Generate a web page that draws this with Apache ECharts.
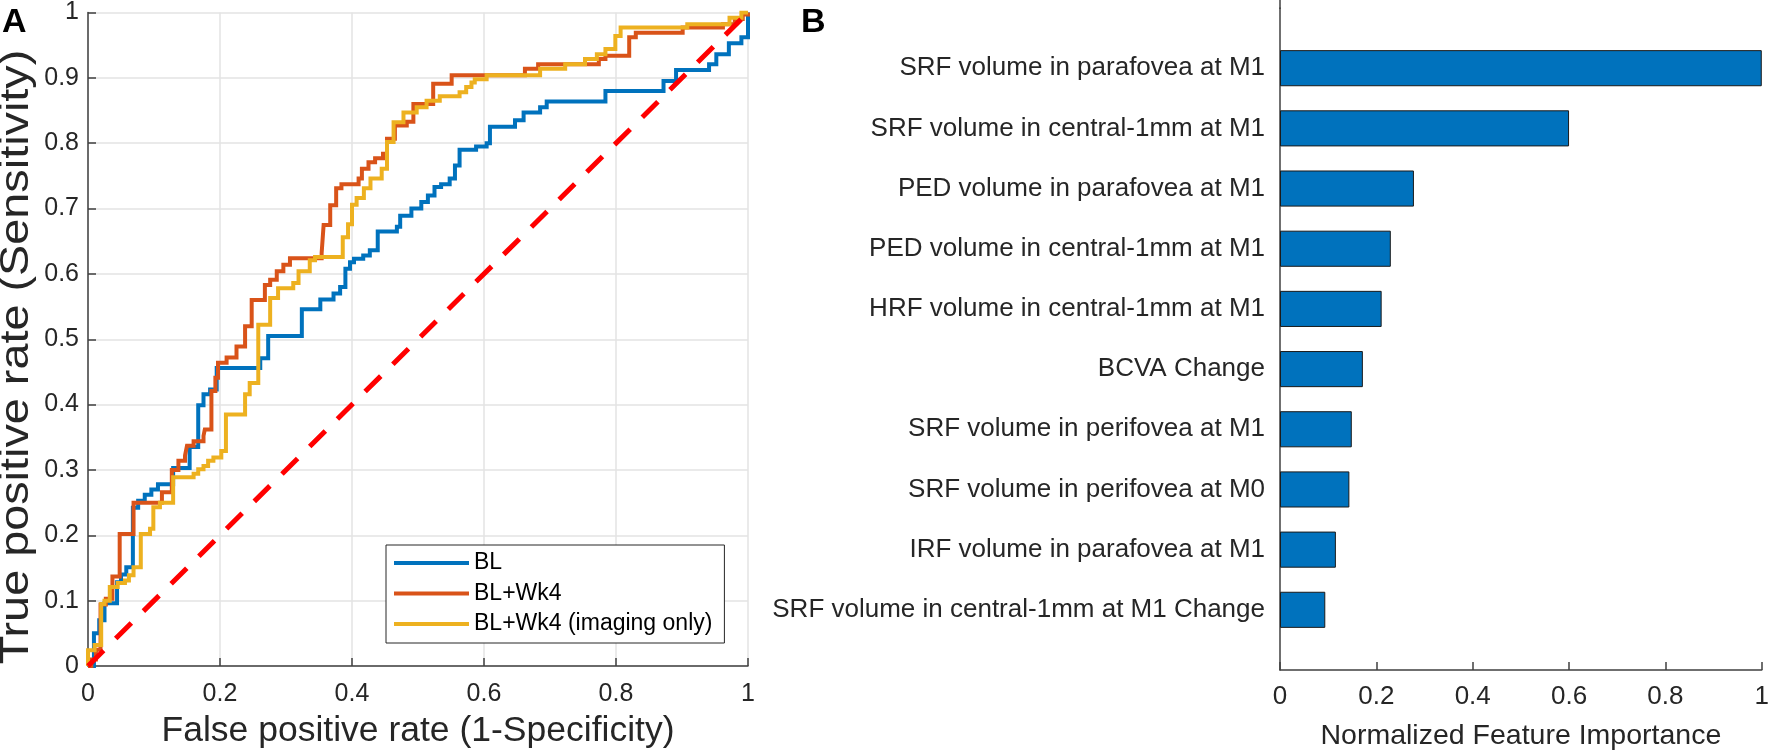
<!DOCTYPE html>
<html>
<head>
<meta charset="utf-8">
<script src="https://cdn.jsdelivr.net/npm/echarts@6/dist/echarts.min.js"></script>
<style>
html,body{margin:0;padding:0;background:#fff;}
#c{width:1772px;height:756px;}
</style>
</head>
<body>
<div id="c"></div>
<script>
// ---------- Panel A: ROC curves (corner points of the step curves, [FPR, TPR]) ----------
const rocBL = [[0,0],[0.009,0],[0.009,0.05],[0.017,0.05],[0.017,0.07],[0.025,0.07],[0.025,0.096],[0.044,0.096],[0.044,0.128],[0.05,0.128],[0.05,0.14],[0.058,0.14],[0.058,0.151],[0.068,0.151],[0.068,0.242],[0.076,0.242],[0.076,0.253],[0.086,0.253],[0.086,0.262],[0.096,0.262],[0.096,0.27],[0.106,0.27],[0.106,0.278],[0.129,0.278],[0.129,0.303],[0.154,0.303],[0.154,0.335],[0.167,0.335],[0.167,0.399],[0.175,0.399],[0.175,0.416],[0.185,0.416],[0.185,0.423],[0.195,0.423],[0.195,0.456],[0.261,0.456],[0.261,0.471],[0.273,0.471],[0.273,0.505],[0.324,0.505],[0.324,0.546],[0.352,0.546],[0.352,0.561],[0.372,0.561],[0.372,0.57],[0.382,0.57],[0.382,0.58],[0.39,0.58],[0.39,0.608],[0.397,0.608],[0.397,0.618],[0.403,0.618],[0.403,0.623],[0.417,0.623],[0.417,0.628],[0.427,0.628],[0.427,0.636],[0.439,0.636],[0.439,0.665],[0.468,0.665],[0.468,0.672],[0.473,0.672],[0.473,0.689],[0.49,0.689],[0.49,0.7],[0.505,0.7],[0.505,0.71],[0.515,0.71],[0.515,0.72],[0.525,0.72],[0.525,0.733],[0.535,0.733],[0.535,0.737],[0.548,0.737],[0.548,0.746],[0.556,0.746],[0.556,0.766],[0.563,0.766],[0.563,0.79],[0.588,0.79],[0.588,0.795],[0.604,0.795],[0.604,0.8],[0.609,0.8],[0.609,0.825],[0.647,0.825],[0.647,0.835],[0.66,0.835],[0.66,0.847],[0.685,0.847],[0.685,0.855],[0.695,0.855],[0.695,0.864],[0.784,0.864],[0.784,0.88],[0.872,0.88],[0.872,0.895],[0.891,0.895],[0.891,0.912],[0.941,0.912],[0.941,0.921],[0.952,0.921],[0.952,0.936],[0.971,0.936],[0.971,0.953],[0.99,0.953],[0.99,0.962],[1,0.962],[1,1]];

const rocWk4 = [[0,0],[0.005,0],[0.005,0.01],[0.012,0.01],[0.012,0.025],[0.019,0.025],[0.019,0.094],[0.027,0.094],[0.027,0.103],[0.037,0.103],[0.037,0.137],[0.048,0.137],[0.048,0.202],[0.069,0.202],[0.069,0.25],[0.112,0.25],[0.112,0.266],[0.127,0.266],[0.127,0.3],[0.137,0.3],[0.137,0.314],[0.147,0.314],[0.147,0.322],[0.15,0.322],[0.15,0.337],[0.16,0.337],[0.16,0.344],[0.175,0.344],[0.175,0.352],[0.177,0.352],[0.177,0.362],[0.187,0.362],[0.187,0.421],[0.193,0.421],[0.193,0.441],[0.197,0.441],[0.197,0.464],[0.21,0.464],[0.21,0.472],[0.225,0.472],[0.225,0.489],[0.238,0.489],[0.238,0.52],[0.248,0.52],[0.248,0.56],[0.268,0.56],[0.268,0.583],[0.276,0.583],[0.276,0.591],[0.286,0.591],[0.286,0.604],[0.296,0.604],[0.296,0.614],[0.306,0.614],[0.306,0.624],[0.354,0.624],[0.354,0.632],[0.357,0.632],[0.357,0.675],[0.367,0.675],[0.367,0.705],[0.376,0.705],[0.376,0.731],[0.384,0.731],[0.384,0.737],[0.41,0.737],[0.41,0.746],[0.415,0.746],[0.415,0.761],[0.425,0.761],[0.425,0.771],[0.435,0.771],[0.435,0.777],[0.447,0.777],[0.447,0.784],[0.453,0.784],[0.453,0.807],[0.465,0.807],[0.465,0.827],[0.483,0.827],[0.483,0.833],[0.493,0.833],[0.493,0.86],[0.523,0.86],[0.523,0.891],[0.551,0.891],[0.551,0.904],[0.662,0.904],[0.662,0.914],[0.682,0.914],[0.682,0.921],[0.774,0.921],[0.774,0.929],[0.784,0.929],[0.784,0.934],[0.82,0.934],[0.82,0.962],[0.83,0.962],[0.83,0.969],[0.901,0.969],[0.901,0.977],[0.962,0.977],[0.962,0.982],[0.98,0.982],[0.98,0.99],[0.992,0.99],[0.992,0.997],[1,0.997],[1,1]];

const rocWk4Img = [[0,0],[0,0.024],[0.01,0.024],[0.01,0.032],[0.02,0.032],[0.02,0.095],[0.025,0.095],[0.025,0.1],[0.033,0.1],[0.033,0.121],[0.045,0.121],[0.045,0.127],[0.056,0.127],[0.056,0.131],[0.062,0.131],[0.062,0.139],[0.069,0.139],[0.069,0.151],[0.08,0.151],[0.08,0.202],[0.094,0.202],[0.094,0.21],[0.099,0.21],[0.099,0.243],[0.109,0.243],[0.109,0.25],[0.129,0.25],[0.129,0.289],[0.16,0.289],[0.16,0.294],[0.167,0.294],[0.167,0.301],[0.175,0.301],[0.175,0.306],[0.182,0.306],[0.182,0.314],[0.19,0.314],[0.19,0.319],[0.202,0.319],[0.202,0.329],[0.209,0.329],[0.209,0.385],[0.238,0.385],[0.238,0.416],[0.245,0.416],[0.245,0.433],[0.258,0.433],[0.258,0.522],[0.276,0.522],[0.276,0.563],[0.288,0.563],[0.288,0.578],[0.311,0.578],[0.311,0.586],[0.319,0.586],[0.319,0.604],[0.336,0.604],[0.336,0.621],[0.344,0.621],[0.344,0.626],[0.386,0.626],[0.386,0.656],[0.394,0.656],[0.394,0.676],[0.4,0.676],[0.4,0.706],[0.407,0.706],[0.407,0.716],[0.418,0.716],[0.418,0.731],[0.428,0.731],[0.428,0.746],[0.445,0.746],[0.445,0.761],[0.453,0.761],[0.453,0.802],[0.463,0.802],[0.463,0.832],[0.478,0.832],[0.478,0.847],[0.498,0.847],[0.498,0.855],[0.513,0.855],[0.513,0.865],[0.533,0.865],[0.533,0.872],[0.563,0.872],[0.563,0.878],[0.573,0.878],[0.573,0.886],[0.581,0.886],[0.581,0.893],[0.586,0.893],[0.586,0.898],[0.604,0.898],[0.604,0.904],[0.685,0.904],[0.685,0.914],[0.723,0.914],[0.723,0.921],[0.753,0.921],[0.753,0.929],[0.771,0.929],[0.771,0.936],[0.784,0.936],[0.784,0.944],[0.799,0.944],[0.799,0.964],[0.807,0.964],[0.807,0.977],[0.908,0.977],[0.908,0.982],[0.972,0.982],[0.972,0.992],[0.99,0.992],[0.99,1],[1,1]];

const chanceLine = [[0,0],[1,1]];
const seriesNames = ['BL','BL+Wk4','BL+Wk4 (imaging only)'];

// ---------- Panel B: feature importance ----------
const featureNames = [
  'SRF volume in parafovea at M1',
  'SRF volume in central-1mm at M1',
  'PED volume in parafovea at M1',
  'PED volume in central-1mm at M1',
  'HRF volume in central-1mm at M1',
  'BCVA Change',
  'SRF volume in perifovea at M1',
  'SRF volume in perifovea at M0',
  'IRF volume in parafovea at M1',
  'SRF volume in central-1mm at M1 Change'
];
const featureImportance = [1.0, 0.6, 0.278, 0.23, 0.211, 0.172, 0.149, 0.144, 0.116, 0.094];

const FONT = '"Liberation Sans", Arial, Helvetica, sans-serif';
const TXT = '#262626';
const AX = '#404040';

const yCats = [''].concat(featureNames, ['']);
const barData = ['-'].concat(featureImportance, ['-']);

const chart = echarts.init(document.getElementById('c'), null, {renderer: 'canvas'});
chart.setOption({
  backgroundColor: '#ffffff',
  animation: false,
  textStyle: {fontFamily: FONT, color: TXT},
  graphic: [
    {type: 'text', left: 2, top: 6, style: {text: 'A', font: 'bold 34px ' + FONT, fill: '#000'}},
    {type: 'text', left: 801, top: 6, style: {text: 'B', font: 'bold 34px ' + FONT, fill: '#000'}},
    {type: 'text', x: 17, y: 357, rotation: Math.PI / 2, scaleX: 1.17,
     style: {text: 'True positive rate (Sensitivity)', font: '40px ' + FONT, fill: TXT,
             align: 'center', verticalAlign: 'middle'}},
    {type: 'line', shape: {x1: 1280, y1: 0, x2: 1280, y2: 9}, style: {stroke: AX, lineWidth: 1.5}}
  ],
  legend: {
    data: seriesNames,
    orient: 'vertical',
    left: 386, top: 545,
    backgroundColor: '#ffffff',
    borderColor: '#262626', borderWidth: 1, borderRadius: 0,
    padding: [5, 12, 6, 8],
    itemWidth: 75, itemHeight: 4, itemGap: 4.5,
    icon: 'rect',
    textStyle: {fontSize: 23, color: '#000', fontFamily: FONT, lineHeight: 26}
  },
  grid: [
    {left: 88, right: 1024, top: 10, bottom: 90, containLabel: false},
    {left: 1280, right: 2, top: 8, bottom: 86, containLabel: false}
  ],
  xAxis: [
    {
      type: 'value', gridIndex: 0, min: 0, max: 1, interval: 0.2,
      name: 'False positive rate (1-Specificity)', nameLocation: 'middle', nameGap: 47,
      nameTextStyle: {fontSize: 35.5, color: TXT, fontFamily: FONT},
      axisLine: {show: true, onZero: false, lineStyle: {color: AX, width: 1.5}},
      axisTick: {show: true, inside: true, length: 8, lineStyle: {color: AX, width: 1.5}},
      axisLabel: {fontSize: 25, color: TXT, margin: 16, fontFamily: FONT},
      splitLine: {show: true, lineStyle: {color: '#e3e3e3', width: 1.5}}
    },
    {
      type: 'value', gridIndex: 1, min: 0, max: 1, interval: 0.2,
      name: 'Normalized Feature Importance', nameLocation: 'middle', nameGap: 52,
      nameTextStyle: {fontSize: 28.5, color: TXT, fontFamily: FONT},
      axisLine: {show: true, onZero: false, lineStyle: {color: AX, width: 1.5}},
      axisTick: {show: true, inside: true, length: 8, lineStyle: {color: AX, width: 1.5}},
      axisLabel: {fontSize: 26, color: TXT, margin: 14, fontFamily: FONT},
      splitLine: {show: false}
    }
  ],
  yAxis: [
    {
      type: 'value', gridIndex: 0, min: 0, max: 1, interval: 0.1,
      axisLine: {show: true, onZero: false, lineStyle: {color: AX, width: 1.5}},
      axisTick: {show: true, inside: true, length: 8, lineStyle: {color: AX, width: 1.5}},
      axisLabel: {fontSize: 25, color: TXT, margin: 9, fontFamily: FONT},
      splitLine: {show: true, lineStyle: {color: '#e3e3e3', width: 1.5}}
    },
    {
      type: 'category', gridIndex: 1, data: yCats, inverse: true, boundaryGap: false,
      axisLine: {show: true, onZero: false, lineStyle: {color: AX, width: 1.5}},
      axisTick: {show: false},
      axisLabel: {fontSize: 26, color: TXT, margin: 15, interval: 0, fontFamily: FONT},
      splitLine: {show: false}
    }
  ],
  series: [
    {name: seriesNames[0], type: 'line', xAxisIndex: 0, yAxisIndex: 0, data: rocBL,
     showSymbol: false, symbol: 'none', color: '#0072BD', lineStyle: {width: 4, color: '#0072BD', join: 'miter'}},
    {name: seriesNames[1], type: 'line', xAxisIndex: 0, yAxisIndex: 0, data: rocWk4,
     showSymbol: false, symbol: 'none', color: '#D95319', lineStyle: {width: 4, color: '#D95319', join: 'miter'}},
    {name: seriesNames[2], type: 'line', xAxisIndex: 0, yAxisIndex: 0, data: rocWk4Img,
     showSymbol: false, symbol: 'none', color: '#EDB120', lineStyle: {width: 4, color: '#EDB120', join: 'miter'}},
    {name: 'chance', type: 'line', xAxisIndex: 0, yAxisIndex: 0, data: chanceLine,
     showSymbol: false, symbol: 'none', color: '#FF0000',
     lineStyle: {width: 5, color: '#FF0000', type: [22, 17]}},
    {name: 'importance', type: 'bar', xAxisIndex: 1, yAxisIndex: 1, data: barData,
     barWidth: '60%',
     itemStyle: {color: '#0072BD', borderColor: '#1a1a1a', borderWidth: 1}}
  ]
});
</script>
</body>
</html>
